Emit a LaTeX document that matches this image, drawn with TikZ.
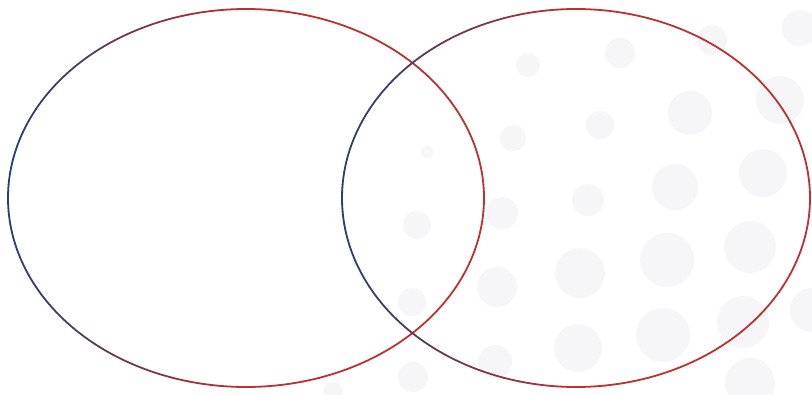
\documentclass[tikz,border=0pt]{standalone}
\usepackage{xcolor}
\usepackage{tikz}
\usetikzlibrary{positioning}
\definecolor{vennBlue}{RGB}{36,66,112}
\definecolor{vennRed}{RGB}{186,50,50}
\definecolor{dotGray}{RGB}{246,245,248}

\tikzset{
  ring/.style={line width=1.8pt, line cap=round},
  bgdot/.style={fill=dotGray, draw=none}
}

% ellipse outline shaded from blue (left) to red (right)
\newcommand{\vennring}[4]{%
  \foreach \a in {0,4,...,356} {
    \pgfmathsetmacro{\redpart}{min(100,100*(1+cos(\a+2)))}
    \draw[ring, vennRed!\redpart!vennBlue]
      ({#1+#3*cos(\a)},{#2+#4*sin(\a)})
      arc[start angle=\a, end angle=\a+4, x radius=#3, y radius=#4];
  }}

\begin{document}
\begin{tikzpicture}[x=1pt, y=-1pt]
  \fill[white] (0,0) rectangle (812,394);
  \useasboundingbox (0,0) rectangle (812,394);

  % faint dots in the background
  \foreach \px/\py/\r in {528/65/12, 620/53/15, 712/40/15, 800/28/18,
      427/152/6, 513/138/13, 600/125/14, 690/113/22, 780/100/24,
      588/200/16, 675/187/23, 763/173/24,
      417/225/14, 502/213/16, 580/273/25, 667/260/27, 750/247/26,
      412/302/14, 497/287/20, 578/348/24, 663/335/27, 743/322/26, 812/310/22,
      413/377/15, 495/362/17, 750/383/25, 333/392/10} {
    \fill[bgdot] (\px,\py) circle (\r);
  }

  % left set
  \vennring{246}{198}{238}{189}
  % right set
  \vennring{576}{198}{234}{189}
\end{tikzpicture}
\end{document}
